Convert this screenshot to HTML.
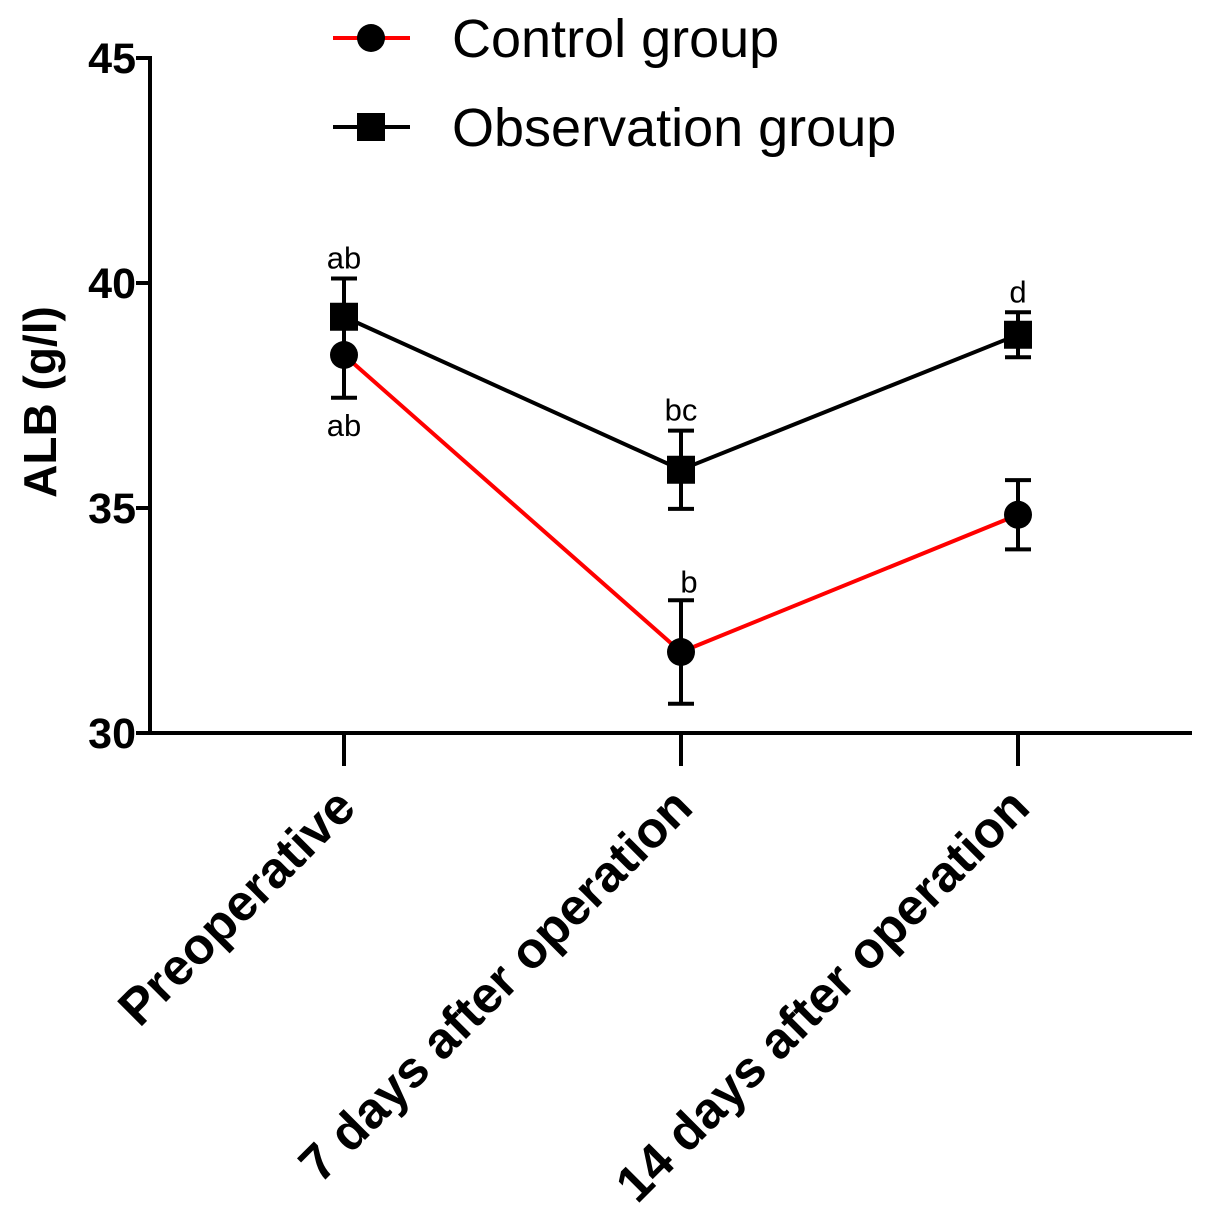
<!DOCTYPE html>
<html><head><meta charset="utf-8"><style>html,body{margin:0;padding:0;background:#fff}svg{display:block}</style></head>
<body>
<svg id="chart" width="1205" height="1206" xmlns="http://www.w3.org/2000/svg" font-family="Liberation Sans, Arial, sans-serif">
<g id="axes"></g>
<g id="series"></g>
<g id="legend"></g>
</svg>
<script>
const categories = ["Preoperative", "7 days after operation", "14 days after operation"];
const controlMeans = [38.4, 31.8, 34.85];
const controlErr = [0.95, 1.15, 0.77];
const obsMeans = [39.25, 35.85, 38.85];
const obsErr = [0.85, 0.87, 0.5];
const yTicks = [30, 35, 40, 45];
const obsLabels = ["ab", "bc", "d"];
const controlLabels = ["ab", "b", ""];

const NS = "http://www.w3.org/2000/svg";
const y = v => 733 - (v - 30) * 45;
const x = i => 344 + i * 337;
function mk(tag, attrs, parent, text) {
  const e = document.createElementNS(NS, tag);
  for (const k in attrs) e.setAttribute(k, attrs[k]);
  if (text !== undefined) e.textContent = text;
  parent.appendChild(e);
  return e;
}
const axes = document.getElementById('axes');
const series = document.getElementById('series');
const legend = document.getElementById('legend');

let e = mk('line', {x1:150, y1:56, x2:150, y2:735, stroke:'#000', 'stroke-width':4}, axes);
 
e = mk('line', {x1:148, y1:733, x2:1192, y2:733, stroke:'#000', 'stroke-width':4}, axes);
 
yTicks.forEach(t => {
  let l = mk('line', {x1:136, y1:y(t), x2:150, y2:y(t), stroke:'#000', 'stroke-width':4}, axes);
   
  let tx = mk('text', {x:136, y:y(t)+15, 'text-anchor':'end', 'font-size':43, 'font-weight':'bold'}, axes, String(t));
   
});
categories.forEach((c, i) => {
  let l = mk('line', {x1:x(i), y1:733, x2:x(i), y2:766, stroke:'#000', 'stroke-width':4}, axes);
   
  let tx = mk('text', {x:0, y:0, 'text-anchor':'end', 'font-size':51, 'font-weight':'bold', transform:`translate(${x(i)+14},${810}) rotate(-45)`}, axes, c);
   
});
e = mk('text', {x:0, y:0, 'text-anchor':'middle', 'font-size':46, 'font-weight':'bold', transform:'translate(56,402) rotate(-90)'}, axes, 'ALB (g/l)');
 

function drawSeries(means, errs, color, marker, name) {
  const pts = means.map((m, i) => x(i) + ',' + y(m)).join(' ');
  let p = mk('polyline', {points:pts, fill:'none', stroke:color, 'stroke-width':4}, series);
   
  means.forEach((m, i) => {
    const cx = x(i), top = y(m + errs[i]), bot = y(m - errs[i]);
    let g = mk('g', {stroke:'#000', 'stroke-width':4}, series);
     
    mk('line', {x1:cx, y1:top, x2:cx, y2:bot}, g);
    mk('line', {x1:cx-13, y1:top, x2:cx+13, y2:top}, g);
    mk('line', {x1:cx-13, y1:bot, x2:cx+13, y2:bot}, g);
    let mkEl = marker === 'circle' ? mk('circle', {cx:cx, cy:y(m), r:14, fill:'#000'}, series)
      : mk('rect', {x:cx-14, y:y(m)-14, width:28, height:28, fill:'#000'}, series);
     
  });
}
drawSeries(controlMeans, controlErr, '#ff0000', 'circle', 'control');
drawSeries(obsMeans, obsErr, '#000', 'square', 'observation');

obsLabels.forEach((s, i) => {
  if (!s) return;
  let t = mk('text', {x:x(i), y:y(obsMeans[i] + obsErr[i]) - 10, 'text-anchor':'middle', 'font-size':31}, series, s);
   
});
controlLabels.forEach((s, i) => {
  if (!s) return;
  const yy = i === 0 ? y(controlMeans[i] - controlErr[i]) + 38 : y(controlMeans[i] + controlErr[i]) - 8;
  let t = mk('text', {x:x(i) + (i === 1 ? 8 : 0), y:yy, 'text-anchor':'middle', 'font-size':31}, series, s);
   
});

function legendEntry(yy, color, marker, label, name) {
  let g = mk('g', {}, legend);
   
  mk('line', {x1:333, y1:yy, x2:410, y2:yy, stroke:color, 'stroke-width':4}, g);
  if (marker === 'circle') mk('circle', {cx:371, cy:yy, r:14, fill:'#000'}, g);
  else mk('rect', {x:357, y:yy-14, width:28, height:28, fill:'#000'}, g);
  mk('text', {x:452, y:yy+19, 'font-size':54}, g, label);
}
legendEntry(38, '#ff0000', 'circle', 'Control group', 'legend-entry-control');
legendEntry(127, '#000', 'square', 'Observation group', 'legend-entry-observation');
</script>
</body></html>
